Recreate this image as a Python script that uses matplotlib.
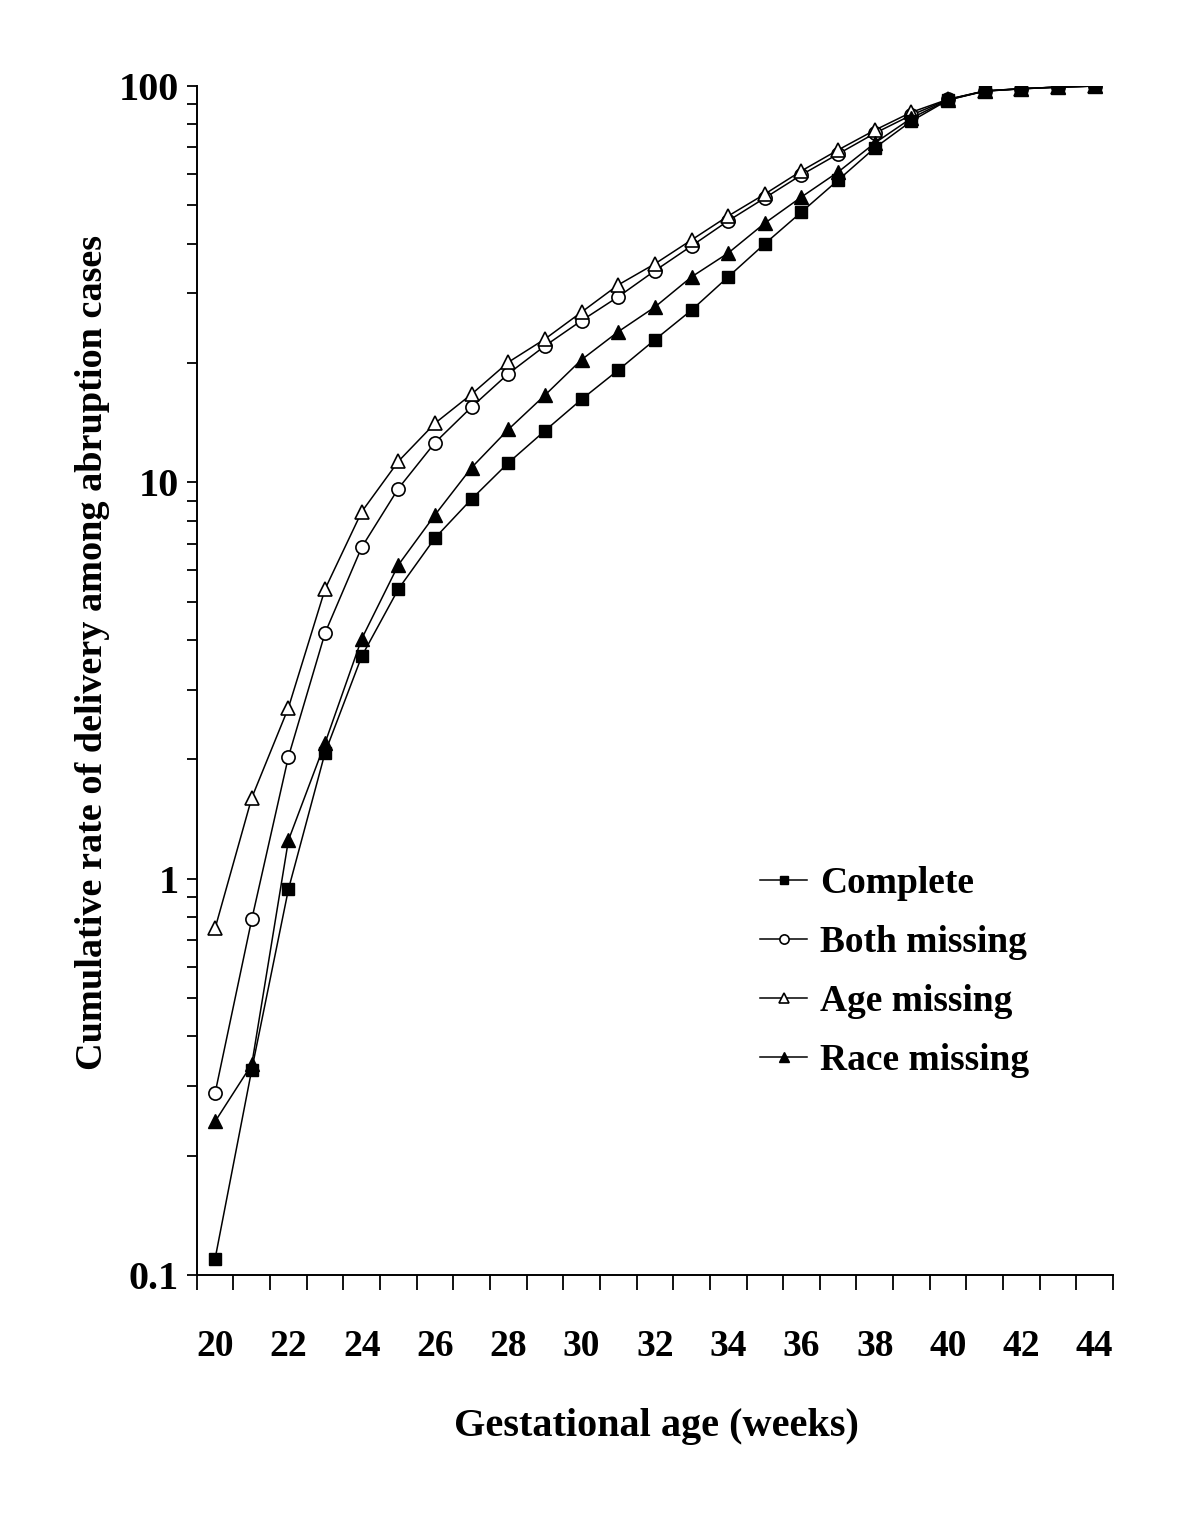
import numpy as np
import matplotlib
matplotlib.use('Agg')
import matplotlib.pyplot as plt
from matplotlib.ticker import FixedLocator, NullFormatter, LogLocator

#%% DATA
# ----------------------
weeks = list(range(20, 45))
complete = [0.11, 0.33, 0.94, 2.08, 3.64, 5.38, 7.24, 9.08, 11.2, 13.5, 16.2, 19.2,
            22.9, 27.2, 33.0, 40.0, 48.1, 57.9, 69.8, 81.6, 92.2, 97.1, 98.4, 99.4, 100]
both_missing = [0.288, 0.79, 2.03, 4.17, 6.86, 9.65, 12.6, 15.5, 18.8, 22.1, 25.6, 29.4,
                34.2, 39.5, 45.7, 52.2, 59.7, 67.4, 76.0, 84.5, 92.5, 97.2, 98.5, 99.4, 100]
age_missing = [0.75, 1.60, 2.70, 5.38, 8.43, 11.3, 14.1, 16.7, 20.1, 23.0, 26.9, 31.5,
               35.6, 40.9, 47.0, 53.4, 61.1, 69.0, 77.4, 85.9, 92.6, 97.2, 98.5, 99.4, 100]
race_missing = [0.244, 0.34, 1.25, 2.20, 4.03, 6.19, 8.28, 10.9, 13.6, 16.6, 20.4, 24.0,
                27.7, 33.0, 37.9, 45.1, 52.5, 60.7, 71.8, 83.0, 92.3, 97.1, 98.4, 99.4, 100]
xtick_labels = [str(w) for w in range(20, 45, 2)]
ytick_vals = [0.1, 1, 10, 100]
ytick_labels = ['0.1', '1', '10', '100']
# ----------------------

#%% FIGURE SETUP
# ----------------------
plt.rcParams['font.family'] = ['Liberation Serif', 'DejaVu Serif']
plt.rcParams['font.weight'] = 'bold'
fs = 27

fig = plt.figure(figsize=(12, 15.15), dpi=100)
ax = fig.add_axes([0.164, 0.1584, 0.7635, 0.7848])
# ----------------------

#%% PLOT SERIES
# ----------------------
# Complete drawn last so its squares sit on top where the curves merge
lw = 1.1
ax.plot(weeks, both_missing, color='black', lw=lw, marker='o', ms=9.5,
        mfc='white', mec='black', mew=1.2, label='Both missing', zorder=3)
ax.plot(weeks, age_missing, color='black', lw=lw, marker='^', ms=10.5,
        mfc='white', mec='black', mew=1.2, label='Age missing', zorder=3)
ax.plot(weeks, race_missing, color='black', lw=lw, marker='^', ms=10.5,
        mfc='black', mec='black', label='Race missing', zorder=4)
ax.plot(weeks, complete, color='black', lw=lw, marker='s', ms=9,
        mfc='black', mec='black', label='Complete', zorder=5)
# ----------------------

#%% AXES
# ----------------------
ax.set_yscale('log')
ax.set_ylim(0.1, 100)
ax.set_xlim(19.5, 44.5)

ax.spines['top'].set_visible(False)
ax.spines['right'].set_visible(False)
ax.spines['left'].set_linewidth(1.4)
ax.spines['bottom'].set_linewidth(1.4)

# x: labels between tick marks (category style)
ax.set_xticks(range(20, 45, 2))
ax.set_xticklabels(xtick_labels, fontsize=fs, fontweight='bold')
ax.xaxis.set_minor_locator(FixedLocator(np.arange(19.5, 45, 1)))
ax.tick_params(axis='x', which='major', length=0, pad=39)
ax.tick_params(axis='x', which='minor', length=11, width=1.3, direction='out')

# y: log decades
ax.yaxis.set_major_locator(FixedLocator(ytick_vals))
ax.set_yticklabels(ytick_labels, fontsize=29, fontweight='bold')
ax.yaxis.set_minor_locator(LogLocator(base=10, subs=np.arange(2, 10)))
ax.yaxis.set_minor_formatter(NullFormatter())
ax.tick_params(axis='y', which='both', length=7, width=1.3, direction='out', pad=6)

fig.text(0.0767, 0.5696, 'Cumulative rate of delivery among abruption cases',
         rotation=90, ha='center', va='center', fontsize=27.5, fontweight='bold')
fig.text(0.547, 0.0581, 'Gestational age (weeks)', ha='center', va='center',
         fontsize=29, fontweight='bold')
# ----------------------

#%% LEGEND
# ----------------------
handles, labels = ax.get_legend_handles_labels()
order = [3, 0, 1, 2]
leg = ax.legend([handles[i] for i in order], [labels[i] for i in order],
                loc='upper left', bbox_to_anchor=(0.618, 0.441),
                bbox_transform=fig.transFigure, frameon=False, fontsize=fs,
                handlelength=1.25, handletextpad=0.35, labelspacing=0.64,
                borderpad=0, markerscale=0.7)
# ----------------------

fig.savefig('out.png', dpi=100)
